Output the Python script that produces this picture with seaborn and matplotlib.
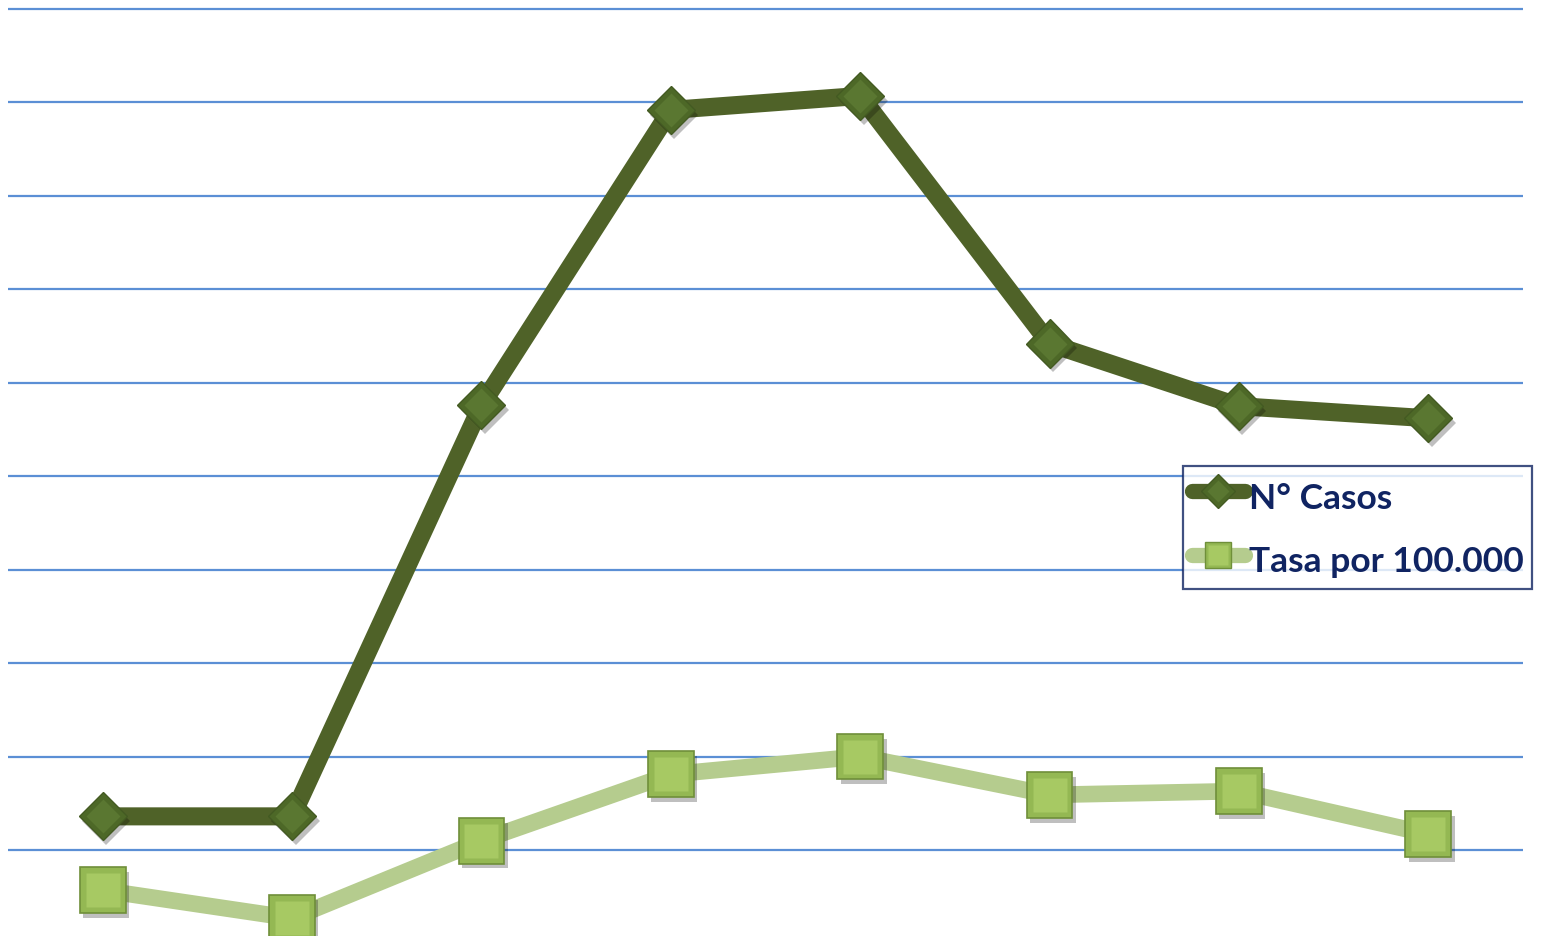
import matplotlib
matplotlib.use("Agg")
import matplotlib.pyplot as plt
import matplotlib.patheffects as pe
from matplotlib.lines import Line2D
from matplotlib.legend_handler import HandlerTuple
import seaborn as sns
import pandas as pd

# Series values per period
periodo = [1, 2, 3, 4, 5, 6, 7, 8]
casos = [13.6, 13.6, 57.6, 89.2, 90.7, 64.2, 57.5, 56.2]
tasa = [5.7, 2.7, 11.0, 18.1, 20.0, 15.9, 16.3, 11.7]
etiquetas = ["N° Casos", "Tasa por 100.000"]
grid_vals = [10, 20, 30, 40, 50, 60, 70, 80, 90, 100]

DARK_LINE = "#4F6228"
DARK_OUTER = "#4D6827"
DARK_INNER = "#5A7731"
LIGHT_LINE = "#B5CC8E"
LIGHT_OUTER = "#94B853"
LIGHT_INNER = "#A7C963"
GRID = "#5B8FD5"
NAVY = "#102462"

sns.set_theme(style="white")
plt.rcParams["font.family"] = ["Lato", "DejaVu Sans"]

fig = plt.figure(figsize=(15.43, 9.37), dpi=100)
ax = fig.add_axes([8 / 1543, 0, 1515 / 1543, 1])

df = pd.DataFrame({"periodo": periodo, "casos": casos, "tasa": tasa})

sns.lineplot(data=df, x="periodo", y="tasa", ax=ax, color=LIGHT_LINE,
             linewidth=12, solid_capstyle="butt", zorder=3)
sns.lineplot(data=df, x="periodo", y="casos", ax=ax, color=DARK_LINE,
             linewidth=13, solid_capstyle="butt", zorder=4)

shadow = [pe.SimplePatchShadow(offset=(2.5, -3.5), shadow_rgbFace="black",
                               alpha=0.25), pe.Normal()]

# Bevelled markers: an outer shape with a lighter inner face
sq_out = ax.plot(df["periodo"], df["tasa"], ls="none", marker="s", ms=33,
                 mfc=LIGHT_OUTER, mec="#6F8F3A", mew=1.2, zorder=5)[0]
sq_out.set_path_effects(shadow)
ax.plot(df["periodo"], df["tasa"], ls="none", marker="s", ms=25,
        mfc=LIGHT_INNER, mec="none", zorder=6)

di_out = ax.plot(df["periodo"], df["casos"], ls="none", marker="D", ms=24.5,
                 mfc=DARK_OUTER, mec="#435A22", mew=1, zorder=7)[0]
di_out.set_path_effects(shadow)
ax.plot(df["periodo"], df["casos"], ls="none", marker="D", ms=17,
        mfc=DARK_INNER, mec="none", zorder=8)

ax.set_xlim(0.5, 8.5)
px = 90 / 841
ax.set_ylim(10 - 86 * px, 100 + 10 * px)
ax.set_yticks(grid_vals)
ax.set_xticks([])
ax.tick_params(left=False, labelleft=False, bottom=False, labelbottom=False)
ax.set_xlabel("")
ax.set_ylabel("")
for s in ax.spines.values():
    s.set_visible(False)
ax.yaxis.grid(True, color=GRID, linewidth=1.6)
ax.set_axisbelow(True)

# Legend handles with the same layered markers
h_casos = (Line2D([], [], color=DARK_LINE, lw=11, solid_capstyle="round",
                  marker="D", ms=17, mfc=DARK_OUTER, mec="#435A22"),
           Line2D([], [], ls="none", marker="D", ms=11, mfc=DARK_INNER, mec="none"))
h_tasa = (Line2D([], [], color=LIGHT_LINE, lw=11, solid_capstyle="round",
                 marker="s", ms=19, mfc=LIGHT_OUTER, mec="#6F8F3A"),
          Line2D([], [], ls="none", marker="s", ms=14, mfc=LIGHT_INNER, mec="none"))

leg = ax.legend([h_casos, h_tasa], etiquetas,
                handler_map={tuple: HandlerTuple(ndivide=1, pad=0)},
                loc="upper left", bbox_to_anchor=(1183 / 1543, 1 - 467 / 937),
                bbox_transform=fig.transFigure,
                prop={"family": ["Lato", "DejaVu Sans"], "weight": "bold", "size": 25.5},
                handlelength=1.5, handleheight=1.45, handletextpad=0.1,
                labelspacing=0.6, borderpad=0.25, borderaxespad=0,
                fancybox=False, frameon=True)
leg.get_frame().set_edgecolor(NAVY)
leg.get_frame().set_linewidth(1.6)
leg.get_frame().set_facecolor("white")
leg.set_zorder(10)
for t in leg.get_texts():
    t.set_color(NAVY)

fig.savefig("out.png", dpi=100, facecolor="white")
